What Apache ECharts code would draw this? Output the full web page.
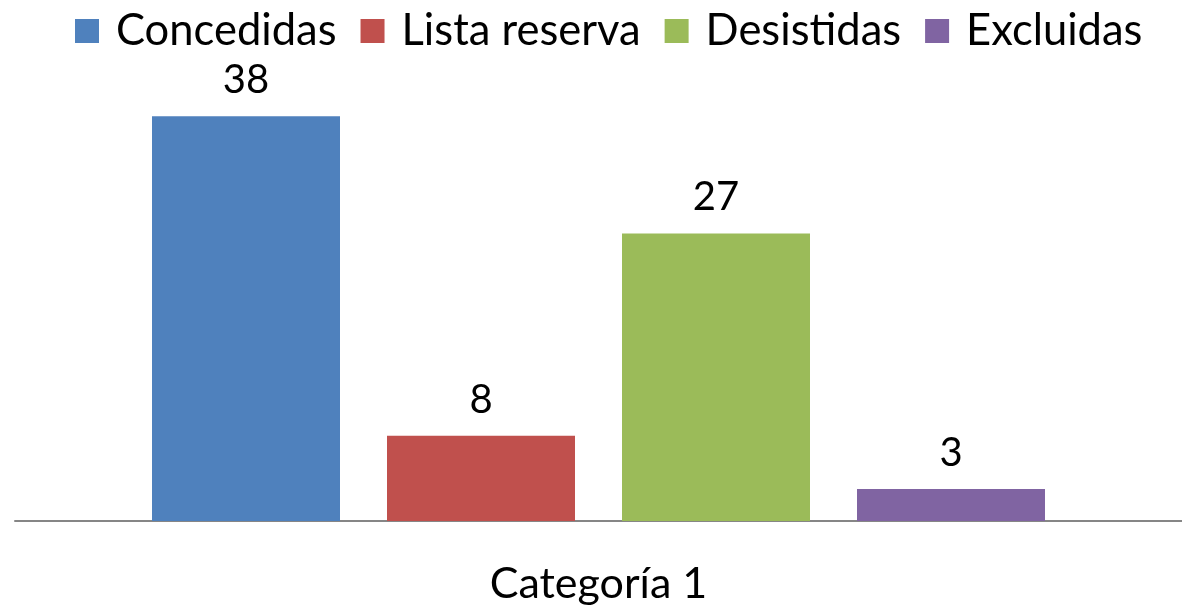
<!DOCTYPE html>
<html>
<head>
<meta charset="utf-8">
<script src="https://cdn.jsdelivr.net/npm/echarts@6/dist/echarts.min.js"></script>
<style>html,body{margin:0;padding:0;background:#fff}#c{width:1182px;height:607px}</style>
</head>
<body>
<div id="c"></div>
<script>
const categories = ['Categoría 1'];
const seriesNames = ['Concedidas', 'Lista reserva', 'Desistidas', 'Excluidas'];
const concedidas = [38];
const listaReserva = [8];
const desistidas = [27];
const excluidas = [3];
const colors = ['#4F81BD', '#C0504D', '#9BBB59', '#8064A2'];

const values = [concedidas, listaReserva, desistidas, excluidas];
const FONT = 'Lato';
const chart = echarts.init(document.getElementById('c'));
chart.setOption({
  animation: false,
  textStyle: { fontFamily: FONT },
  legend: {
    top: 4,
    left: 70,
    itemWidth: 24,
    itemHeight: 24,
    itemGap: 24,
    icon: 'rect',
    textStyle: { fontSize: 43.5, color: '#000', fontFamily: FONT, padding: [0, 0, 0, 12] },
    data: seriesNames
  },
  grid: { left: 15, right: -3, top: 95, bottom: 86, containLabel: false },
  xAxis: {
    type: 'category',
    data: categories,
    axisLine: { show: true, lineStyle: { color: '#868686', width: 2 } },
    axisTick: { show: false },
    axisLabel: { fontSize: 43, color: '#000', margin: 42, fontFamily: FONT }
  },
  yAxis: {
    type: 'value',
    min: 0,
    max: 40,
    show: false,
    splitLine: { show: false }
  },
  series: seriesNames.map((name, i) => ({
    name: name,
    type: 'bar',
    data: values[i],
    barWidth: 188,
    barGap: '25%',
    itemStyle: { color: colors[i] },
    label: {
      show: true,
      position: 'top',
      distance: 16,
      fontSize: 40,
      color: '#000',
      fontFamily: FONT
    }
  }))
});
</script>
</body>
</html>
